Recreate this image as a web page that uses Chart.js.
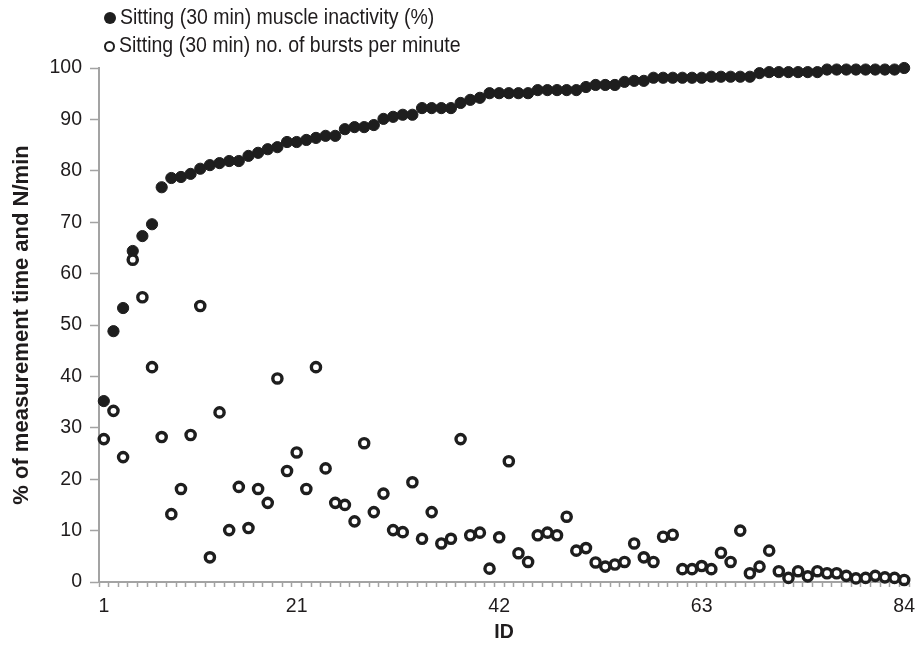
<!DOCTYPE html>
<html>
<head>
<meta charset="utf-8">
<script src="https://cdn.jsdelivr.net/npm/chart.js@4"></script>
<style>
  body { margin: 0; background: #fff; }
  #wrap { position: relative; width: 917px; height: 651px; }
  #legend {
    position: absolute; left: 104px; top: 3px;
    font: 22.5px "Liberation Sans", Arial, sans-serif; color: #1f1c1d;
  }
  .row { height: 28px; line-height: 28px; white-space: nowrap; }
  .txt { display: inline-block; transform: scaleX(0.867); transform-origin: left center; }
  .dot { display: inline-block; width: 12px; height: 12px; border-radius: 50%;
         box-sizing: border-box; margin-right: 4px; vertical-align: 0px; }
  .filled { background: #1e1e1e; }
  .hollow { background: #fff; border: 2.5px solid #1e1e1e; width: 11px; height: 11px; }
</style>
</head>
<body>
<div id="wrap">
  <canvas id="chart" width="917" height="651"></canvas>
  <div id="legend">
    <div class="row"><span class="dot filled"></span><span class="txt">Sitting (30 min) muscle inactivity (%)</span></div>
    <div class="row"><span class="dot hollow"></span><span class="txt">Sitting (30 min) no. of bursts per minute</span></div>
  </div>
</div>
<script>
// participant IDs (x categories)
const ids = Array.from({ length: 84 }, (_, i) => String(i + 1));
const shownTicks = ["1", "21", "42", "63", "84"];

// muscle inactivity, % of measurement time
const inactivity = [35.2, 48.8, 53.3, 64.4, 67.3, 69.6, 76.8, 78.6, 78.8, 79.4,
  80.4, 81.1, 81.5, 81.9, 81.9, 82.9, 83.5, 84.2, 84.6, 85.6,
  85.6, 86.0, 86.4, 86.8, 86.8, 88.1, 88.5, 88.5, 88.9, 90.1,
  90.5, 90.9, 90.9, 92.2, 92.2, 92.2, 92.2, 93.2, 93.8, 94.2,
  95.1, 95.1, 95.1, 95.1, 95.1, 95.7, 95.7, 95.7, 95.7, 95.7,
  96.3, 96.7, 96.7, 96.7, 97.3, 97.5, 97.5, 98.1, 98.1, 98.1,
  98.1, 98.1, 98.1, 98.3, 98.3, 98.3, 98.3, 98.3, 99.0, 99.2,
  99.2, 99.2, 99.2, 99.2, 99.2, 99.7, 99.7, 99.7, 99.7, 99.7,
  99.7, 99.7, 99.7, 100];

// number of bursts per minute
const bursts = [27.8, 33.3, 24.3, 62.7, 55.4, 41.8, 28.2, 13.2, 18.1, 28.6,
  53.7, 4.8, 33.0, 10.1, 18.5, 10.5, 18.1, 15.4, 39.6, 21.6,
  25.2, 18.1, 41.8, 22.1, 15.4, 15.0, 11.8, 27.0, 13.6, 17.2,
  10.1, 9.7, 19.4, 8.4, 13.6, 7.5, 8.4, 27.8, 9.1, 9.6,
  2.6, 8.7, 23.5, 5.6, 3.9, 9.1, 9.6, 9.1, 12.7, 6.1,
  6.6, 3.8, 3.0, 3.4, 3.9, 7.5, 4.8, 3.9, 8.8, 9.2,
  2.5, 2.5, 3.1, 2.5, 5.7, 3.9, 10.0, 1.7, 3.0, 6.1,
  2.1, 0.8, 2.1, 1.1, 2.1, 1.7, 1.7, 1.2, 0.7, 0.8,
  1.2, 0.9, 0.8, 0.4];

const axisGray = "#a3a3a3";
const textColor = "#1f1c1d";
const font = { family: "'Liberation Sans', Arial, sans-serif", size: 19.5 };

new Chart(document.getElementById("chart"), {
  type: "line",
  data: {
    labels: ids,
    datasets: [
      {
        label: "Sitting (30 min) no. of bursts per minute",
        data: bursts,
        showLine: false,
        pointRadius: 4.6,
        pointBorderWidth: 3.4,
        pointBackgroundColor: "#ffffff",
        pointBorderColor: "#1e1e1e",
        order: 1,
        clip: false,
      },
      {
        label: "Sitting (30 min) muscle inactivity (%)",
        data: inactivity,
        showLine: false,
        pointRadius: 5.6,
        pointBorderWidth: 1,
        pointBackgroundColor: "#1e1e1e",
        pointBorderColor: "#1e1e1e",
        order: 2,
        clip: false,
      },
    ],
  },
  options: {
    responsive: false,
    animation: false,
    devicePixelRatio: 1,
    layout: { padding: { top: 68, right: 8, left: 0, bottom: 0 } },
    plugins: { legend: { display: false }, tooltip: { enabled: false } },
    scales: {
      x: {
        type: "category",
        offset: true,
        grid: {
          offset: true,
          drawOnChartArea: false,
          drawTicks: true,
          tickLength: 5,
          tickColor: axisGray,
          tickWidth: 1.5,
        },
        border: { color: axisGray, width: 2 },
        ticks: {
          autoSkip: false,
          maxRotation: 0,
          padding: 8,
          color: textColor,
          font: font,
          callback: function (value) {
            const lab = this.getLabelForValue(value);
            return shownTicks.includes(lab) ? lab : "";
          },
        },
        title: {
          display: true,
          text: "ID",
          color: textColor,
          font: { family: font.family, size: 19.5, weight: "bold" },
          padding: { top: 0, bottom: 7 },
        },
        afterFit: function (scale) {
          scale.height = 69;
          scale.paddingLeft = 0;
          scale.paddingRight = 0;
        },
      },
      y: {
        min: 0,
        max: 100,
        ticks: { stepSize: 10, padding: 8, color: textColor, font: font },
        grid: {
          drawOnChartArea: false,
          tickLength: 9,
          tickColor: axisGray,
          tickWidth: 1.5,
        },
        border: { color: axisGray, width: 2 },
        title: {
          display: true,
          text: "% of measurement time and N/min",
          color: textColor,
          font: { family: font.family, size: 22, weight: "bold" },
          padding: { top: 9, bottom: 0 },
        },
        afterFit: function (scale) {
          scale.width = 99;
        },
      },
    },
  },
});
</script>
</body>
</html>
